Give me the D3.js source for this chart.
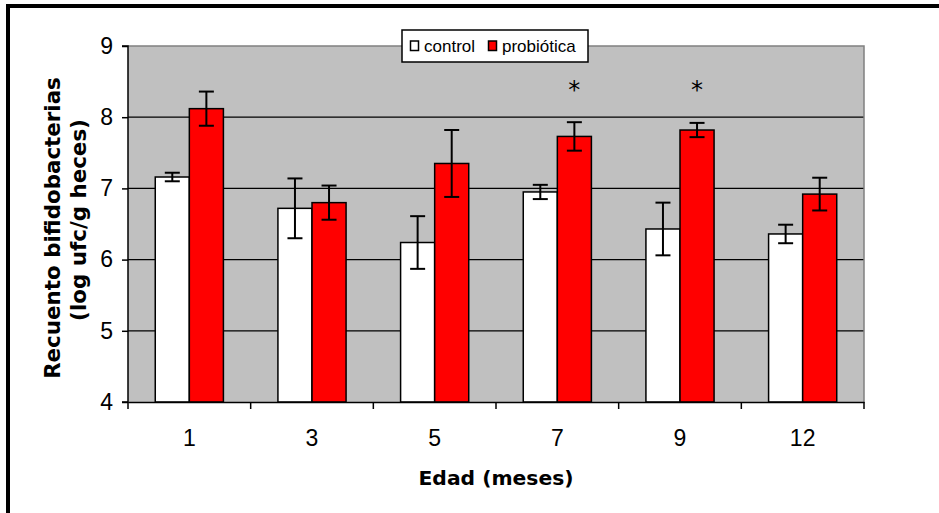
<!DOCTYPE html>
<html>
<head>
<meta charset="utf-8">
<script src="https://cdn.jsdelivr.net/npm/d3@7"></script>
<style>
  body { margin: 0; background: #fff; }
  svg { display: block; }
</style>
</head>
<body>
<div id="chart"></div>
<script>
// data uit de grafiek: leeftijd in maanden en gemiddelden met foutmarge
const edades = ["1", "3", "5", "7", "9", "12"]
const series = ["control", "probiótica"]
const controlMedia = [7.16, 6.72, 6.24, 6.95, 6.43, 6.36]
const controlError = [0.06, 0.42, 0.37, 0.10, 0.37, 0.13]
const probioticaMedia = [8.12, 6.80, 7.35, 7.73, 7.82, 6.92]
const probioticaError = [0.24, 0.24, 0.47, 0.20, 0.10, 0.23]
const significativo = [false, false, false, true, true, false]
const yTicks = [4, 5, 6, 7, 8, 9]

const width = 939
const height = 513
const margin = {top: 46, right: 75, bottom: 111, left: 128}
const colores = {"control": "#ffffff", "probiótica": "#ff0000"}

// tabel met een rij per staaf
const data = []
edades.forEach(function(e, i) {
  data.push({edad: e, serie: "control", media: controlMedia[i], err: controlError[i]})
  data.push({edad: e, serie: "probiótica", media: probioticaMedia[i], err: probioticaError[i]})
})

const svg = d3.select("#chart").append("svg")
    .attr("width", width)
    .attr("height", height)

// kader van de afbeelding (boven en links)
svg.append("path")
    .attr("d", "M8,513 V6 H939")
    .attr("fill", "none")
    .attr("stroke", "#000")
    .attr("stroke-width", 4)

const x0 = d3.scaleBand()
    .domain(edades)
    .range([margin.left, width - margin.right])
    .paddingInner(0)
    .paddingOuter(0)

const x1 = d3.scaleBand()
    .domain(series)
    .range([0, x0.bandwidth()])
    .paddingInner(0)
    .paddingOuter(0.8)

const y = d3.scaleLinear()
    .domain([4, 9])
    .range([height - margin.bottom, margin.top])

const plotW = width - margin.right - margin.left

// grijze achtergrond
svg.append("rect")
    .attr("x", margin.left)
    .attr("y", margin.top)
    .attr("width", plotW)
    .attr("height", y(4) - y(9))
    .attr("fill", "#c0c0c0")

// rasterlijnen
svg.append("g")
    .selectAll("line")
    .data(yTicks.filter(function(d) { return d > 4 && d < 9 }))
    .enter()
    .append("line")
    .attr("x1", margin.left)
    .attr("x2", width - margin.right)
    .attr("y1", function(d) { return y(d) })
    .attr("y2", function(d) { return y(d) })
    .attr("stroke", "#000")
    .attr("stroke-width", 1.2)

// grijze rand boven en rechts
svg.append("path")
    .attr("d", "M" + margin.left + "," + y(9) + " H" + (width - margin.right) + " V" + y(4))
    .attr("fill", "none")
    .attr("stroke", "#808080")
    .attr("stroke-width", 1.5)

// staven
svg.append("g")
    .selectAll("rect")
    .data(data)
    .enter()
    .append("rect")
    .attr("x", function(d) { return x0(d.edad) + x1(d.serie) })
    .attr("y", function(d) { return y(d.media) })
    .attr("width", x1.bandwidth())
    .attr("height", function(d) { return y(4) - y(d.media) })
    .attr("fill", function(d) { return colores[d.serie] })
    .attr("stroke", "#000")
    .attr("stroke-width", 1.5)

// foutbalken
const capW = 7.5
const err = svg.append("g")
    .attr("stroke", "#000")
    .attr("stroke-width", 2)
  .selectAll("g")
    .data(data)
    .enter()
    .append("g")
    .attr("transform", function(d) { return "translate(" + (x0(d.edad) + x1(d.serie) + x1.bandwidth() / 2) + ",0)" })

err.append("line")
    .attr("y1", function(d) { return y(d.media + d.err) })
    .attr("y2", function(d) { return y(d.media - d.err) })
err.append("line")
    .attr("x1", -capW).attr("x2", capW)
    .attr("y1", function(d) { return y(d.media + d.err) })
    .attr("y2", function(d) { return y(d.media + d.err) })
err.append("line")
    .attr("x1", -capW).attr("x2", capW)
    .attr("y1", function(d) { return y(d.media - d.err) })
    .attr("y2", function(d) { return y(d.media - d.err) })

// sterretjes voor significante verschillen
svg.append("g")
    .selectAll("text")
    .data(edades.filter(function(e, i) { return significativo[i] }))
    .enter()
    .append("text")
    .attr("x", function(d) { return x0(d) + x1("probiótica") + x1.bandwidth() / 2 })
    .attr("y", y(8.48) + 15)
    .attr("text-anchor", "middle")
    .attr("font-family", "DejaVu Sans, Verdana, sans-serif")
    .attr("font-size", 24)
    .text("*")

// y-as
const yAxis = svg.append("g")
    .attr("transform", "translate(" + margin.left + ",0)")
    .call(d3.axisLeft(y).tickValues(yTicks).tickSize(6).tickPadding(9).tickFormat(d3.format("d")))
yAxis.select(".domain").attr("stroke", "#000").attr("stroke-width", 1.5).attr("d", "M-6," + y(4) + "H0V" + y(9) + "H-6")
yAxis.selectAll(".tick line").attr("stroke-width", 1.5)
yAxis.selectAll(".tick text")
    .attr("font-family", "Liberation Sans, Arial, sans-serif")
    .attr("font-size", 23)
    .attr("fill", "#000")

// x-as met streepjes tussen de categorieën
const xAxis = svg.append("g")
    .attr("transform", "translate(0," + y(4) + ")")
    .call(d3.axisBottom(x0).tickSize(0).tickPadding(28))
xAxis.select(".domain").attr("stroke", "#000").attr("stroke-width", 1.5)
xAxis.selectAll(".tick text")
    .attr("font-family", "Liberation Sans, Arial, sans-serif")
    .attr("font-size", 23)
    .attr("fill", "#000")
xAxis.selectAll(".sep")
    .data(edades.map(function(e) { return x0(e) }).concat([x0.range()[1]]))
    .enter()
    .append("line")
    .attr("class", "sep")
    .attr("x1", function(d) { return d })
    .attr("x2", function(d) { return d })
    .attr("y1", 0)
    .attr("y2", 7)
    .attr("stroke", "#000")
    .attr("stroke-width", 1.5)

// astitels
svg.append("text")
    .attr("x", margin.left + plotW / 2)
    .attr("y", 485)
    .attr("text-anchor", "middle")
    .attr("font-family", "DejaVu Sans, Verdana, sans-serif")
    .attr("font-weight", "bold")
    .attr("font-size", 20.3)
    .text("Edad (meses)")

svg.append("text")
    .attr("transform", "translate(60,228) rotate(-90)")
    .attr("text-anchor", "middle")
    .attr("font-family", "DejaVu Sans, Verdana, sans-serif")
    .attr("font-weight", "bold")
    .attr("font-size", 21.4)
    .text("Recuento bifidobacterias")

svg.append("text")
    .attr("transform", "translate(86,220) rotate(-90)")
    .attr("text-anchor", "middle")
    .attr("font-family", "DejaVu Sans, Verdana, sans-serif")
    .attr("font-weight", "bold")
    .attr("font-size", 21.4)
    .text("(log ufc/g heces)")

// legenda
const legend = svg.append("g").attr("transform", "translate(402,30)")
legend.append("rect")
    .attr("width", 186)
    .attr("height", 32)
    .attr("fill", "#fff")
    .attr("stroke", "#000")
    .attr("stroke-width", 1.5)

const legX = [8, 86]
const item = legend.selectAll(".item")
    .data(series)
    .enter()
    .append("g")
    .attr("class", "item")
    .attr("transform", function(d, i) { return "translate(" + legX[i] + ",0)" })
item.append("rect")
    .attr("x", 0.5)
    .attr("y", 11)
    .attr("width", 8)
    .attr("height", 9.5)
    .attr("fill", function(d) { return colores[d] })
    .attr("stroke", "#000")
    .attr("stroke-width", 1.5)
item.append("text")
    .attr("x", 14)
    .attr("y", 22)
    .attr("font-family", "Liberation Sans, Arial, sans-serif")
    .attr("font-size", 17)
    .text(function(d) { return d })
</script>
</body>
</html>
